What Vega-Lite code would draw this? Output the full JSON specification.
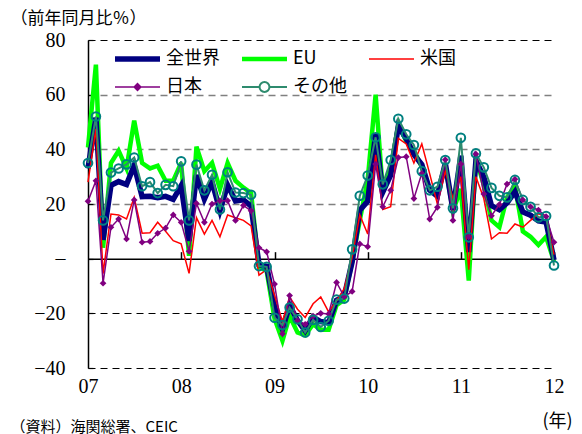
{
  "$schema": "https://vega.github.io/schema/vega-lite/v6.json",
  "width": 466,
  "height": 328,
  "autosize": "none",
  "padding": {"left": 88, "top": 40, "right": 28, "bottom": 66},
  "background": "white",
  "config": {"view": {"stroke": null}},
  "data": {"values": [
    {"d": "2007-01-01", "全世界": 33.0, "EU": 40.7, "米国": 28, "日本": 21, "その他": 35},
    {"d": "2007-02-01", "全世界": 51.6, "EU": 71, "米国": 47.5, "日本": 28.5, "その他": 52},
    {"d": "2007-03-01", "全世界": 6.9, "EU": 4, "米国": -5.5, "日本": -9, "その他": 14},
    {"d": "2007-04-01", "全世界": 26.8, "EU": 35, "米国": 16.3, "日本": 11.5, "その他": 31.5},
    {"d": "2007-05-01", "全世界": 28.2, "EU": 39.5, "米国": 16, "日本": 14.5, "その他": 33},
    {"d": "2007-06-01", "全世界": 27.1, "EU": 33, "米国": 14.5, "日本": 7.2, "その他": 34.5},
    {"d": "2007-07-01", "全世界": 34.1, "EU": 50.5, "米国": 22.4, "日本": 21.5, "その他": 37},
    {"d": "2007-08-01", "全世界": 22.7, "EU": 35, "米国": 9.3, "日本": 6, "その他": 26.5},
    {"d": "2007-09-01", "全世界": 22.8, "EU": 33, "米国": 9.5, "日本": 6.3, "その他": 28},
    {"d": "2007-10-01", "全世界": 22.3, "EU": 34, "米国": 13.3, "日本": 9.3, "その他": 24},
    {"d": "2007-11-01", "全世界": 22.8, "EU": 28.5, "米国": 10, "日本": 11.2, "その他": 27},
    {"d": "2007-12-01", "全世界": 21.7, "EU": 28.5, "米国": 6.6, "日本": 16, "その他": 26.5},
    {"d": "2008-01-01", "全世界": 26.7, "EU": 35, "米国": 5.4, "日本": 13.3, "その他": 35.6},
    {"d": "2008-02-01", "全世界": 6.5, "EU": 1, "米国": -5.4, "日本": 2.7, "その他": 14},
    {"d": "2008-03-01", "全世界": 30.6, "EU": 41, "米国": 15, "日本": 20.2, "その他": 34.4},
    {"d": "2008-04-01", "全世界": 21.8, "EU": 32, "米国": 9, "日本": 13.3, "その他": 25},
    {"d": "2008-05-01", "全世界": 28.1, "EU": 35, "米国": 14, "日本": 20, "その他": 30.7},
    {"d": "2008-06-01", "全世界": 17.6, "EU": 25.5, "米国": 8, "日本": 21.2, "その他": 18},
    {"d": "2008-07-01", "全世界": 26.9, "EU": 35, "米国": 16, "日本": 21.2, "その他": 31.6},
    {"d": "2008-08-01", "全世界": 21.1, "EU": 28.5, "米国": 15, "日本": 14, "その他": 24.2},
    {"d": "2008-09-01", "全世界": 21.5, "EU": 26, "米国": 14, "日本": 19.5, "その他": 24},
    {"d": "2008-10-01", "全世界": 19.2, "EU": 24, "米国": 12, "日本": 17.5, "その他": 23.4},
    {"d": "2008-11-01", "全世界": -2.2, "EU": -3, "米国": -6, "日本": 4, "その他": -2.7},
    {"d": "2008-12-01", "全世界": -2.8, "EU": -4.5, "米国": -4, "日本": 2.5, "その他": -3},
    {"d": "2009-01-01", "全世界": -17.5, "EU": -22, "米国": -13.5, "日本": -9.3, "その他": -21.6},
    {"d": "2009-02-01", "全世界": -25.7, "EU": -30, "米国": -23, "日本": -27.5, "その他": -24.3},
    {"d": "2009-03-01", "全世界": -17.1, "EU": -21, "米国": -14, "日本": -13.5, "その他": -17.9},
    {"d": "2009-04-01", "全世界": -22.6, "EU": -27, "米国": -18.5, "日本": -22.7, "その他": -22.2},
    {"d": "2009-05-01", "全世界": -26.4, "EU": -28, "米国": -21.5, "日本": -24, "その他": -27},
    {"d": "2009-06-01", "全世界": -21.4, "EU": -24, "米国": -16.5, "日本": -21, "その他": -22.4},
    {"d": "2009-07-01", "全世界": -23.0, "EU": -26, "米国": -14, "日本": -20, "その他": -25},
    {"d": "2009-08-01", "全世界": -23.4, "EU": -26, "米国": -19.5, "日本": -20.2, "その他": -22.7},
    {"d": "2009-09-01", "全世界": -15.2, "EU": -17, "米国": -15.4, "日本": -8.7, "その他": -15},
    {"d": "2009-10-01", "全世界": -13.8, "EU": -15, "米国": -11, "日本": -13.9, "その他": -14.6},
    {"d": "2009-11-01", "全世界": -1.2, "EU": -1, "米国": 0.5, "日本": -12, "その他": 3.4},
    {"d": "2009-12-01", "全世界": 17.7, "EU": 14, "米国": 16, "日本": 5.4, "その他": 23},
    {"d": "2010-01-01", "全世界": 21.0, "EU": 29, "米国": 9, "日本": 4.4, "その他": 30.4},
    {"d": "2010-02-01", "全世界": 45.7, "EU": 60, "米国": 38, "日本": 34.6, "その他": 44.4},
    {"d": "2010-03-01", "全世界": 24.3, "EU": 25, "米国": 18, "日本": 19, "その他": 27.2},
    {"d": "2010-04-01", "全世界": 30.5, "EU": 33, "米国": 19, "日本": 25, "その他": 36.1},
    {"d": "2010-05-01", "全世界": 48.5, "EU": 49, "米国": 44, "日本": 37, "その他": 51.2},
    {"d": "2010-06-01", "全世界": 43.9, "EU": 43, "米国": 42, "日本": 37.3, "その他": 45.5},
    {"d": "2010-07-01", "全世界": 38.1, "EU": 39.5, "米国": 35, "日本": 22, "その他": 41.6},
    {"d": "2010-08-01", "全世界": 34.4, "EU": 33.5, "米国": 42, "日本": 31.2, "その他": 32},
    {"d": "2010-09-01", "全世界": 25.1, "EU": 25, "米国": 31, "日本": 14.5, "その他": 25},
    {"d": "2010-10-01", "全世界": 22.9, "EU": 24, "米国": 20, "日本": 18.8, "その他": 26.3},
    {"d": "2010-11-01", "全世界": 34.9, "EU": 34, "米国": 32, "日本": 36.2, "その他": 36.1},
    {"d": "2010-12-01", "全世界": 17.9, "EU": 17.5, "米国": 22, "日本": 14, "その他": 18.4},
    {"d": "2011-01-01", "全世界": 37.7, "EU": 25.5, "米国": 30, "日本": 34.6, "その他": 44.2},
    {"d": "2011-02-01", "全世界": 2.4, "EU": -8, "米国": -4, "日本": 8, "その他": 7.8},
    {"d": "2011-03-01", "全世界": 35.8, "EU": 36.5, "米国": 30, "日本": 38.3, "その他": 38.5},
    {"d": "2011-04-01", "全世界": 29.9, "EU": 27, "米国": 22, "日本": 23.7, "その他": 33.4},
    {"d": "2011-05-01", "全世界": 19.4, "EU": 14, "米国": 7.2, "日本": 15.7, "その他": 25.9},
    {"d": "2011-06-01", "全世界": 17.9, "EU": 11.5, "米国": 9.5, "日本": 19.8, "その他": 23},
    {"d": "2011-07-01", "全世界": 20.4, "EU": 22.5, "米国": 9.3, "日本": 27.3, "その他": 22.4},
    {"d": "2011-08-01", "全世界": 24.5, "EU": 26.5, "米国": 12.7, "日本": 29.1, "その他": 28.8},
    {"d": "2011-09-01", "全世界": 17.1, "EU": 10, "米国": 11.5, "日本": 21.5, "その他": 21.5},
    {"d": "2011-10-01", "全世界": 15.9, "EU": 8, "米国": 14, "日本": 19, "その他": 19},
    {"d": "2011-11-01", "全世界": 13.8, "EU": 5, "米国": 16.5, "日本": 17.8, "その他": 15.1},
    {"d": "2011-12-01", "全世界": 13.4, "EU": 8, "米国": 15, "日本": 15.4, "その他": 15.6},
    {"d": "2012-01-01", "全世界": -0.5, "EU": -1, "米国": 1.5, "日本": 6, "その他": -2.5}
  ]},
  "transform": [{"fold": ["EU", "全世界", "米国", "日本", "その他"], "as": ["s", "v"]}],
  "layer": [
    {
      "mark": {"type": "line"},
      "encoding": {
        "x": {
          "field": "d", "type": "temporal",
          "scale": {"type": "utc", "domain": [{"year": 2007, "month": 1, "date": 1, "utc": true}, {"year": 2012, "month": 1, "date": 1, "utc": true}]},
          "axis": {
            "orient": "bottom",
            "values": [
              {"year": 2007, "month": 1, "date": 1, "utc": true},
              {"year": 2008, "month": 1, "date": 1, "utc": true},
              {"year": 2009, "month": 1, "date": 1, "utc": true},
              {"year": 2010, "month": 1, "date": 1, "utc": true},
              {"year": 2011, "month": 1, "date": 1, "utc": true},
              {"year": 2012, "month": 1, "date": 1, "utc": true}
            ],
            "format": "%y",
            "labelFont": "Liberation Serif", "labelFontSize": 20, "labelColor": "black",
            "labelPadding": 8, "labelFlush": false, "labelDx": 3, "labelOverlap": false,
            "domain": false, "ticks": false, "grid": false,
            "title": "（資料）海関総署、CEIC",
            "titleFont": "Noto Sans CJK JP", "titleFontSize": 15, "titleFontWeight": "normal", "titleColor": "black",
            "titleX": -78, "titleY": 58, "titleAlign": "left", "titleBaseline": "middle", "titleAngle": 0
          }
        },
        "y": {
          "field": "v", "type": "quantitative",
          "scale": {"domain": [-40, 80], "nice": false, "zero": false},
          "axis": {
            "values": [-40, -20, 0, 20, 40, 60, 80],
            "labelFont": "Liberation Serif", "labelFontSize": 20, "labelColor": "black",
            "labelExpr": "datum.value === 0 ? '–' : datum.label",
            "labelPadding": 28,
            "ticks": true, "tickSize": -5, "tickColor": "black", "tickWidth": 1.2,
            "domain": true, "domainColor": "black", "domainWidth": 1.5,
            "grid": true, "gridDash": [7, 5],
            "gridColor": {"condition": {"test": "datum.value < 0 || datum.value === 80", "value": "black"}, "value": "#808080"},
            "gridWidth": {"condition": {"test": "datum.value < 0 || datum.value === 80", "value": 1}, "value": 1.6},
            "gridOpacity": {"condition": {"test": "datum.value === 0", "value": 0}, "value": 1},
            "title": "（前年同月比％）",
            "titleFont": "Noto Sans CJK JP", "titleFontSize": 17, "titleFontWeight": "normal", "titleColor": "black",
            "titleAngle": 0, "titleX": -78, "titleY": -22, "titleAlign": "left", "titleBaseline": "middle"
          }
        },
        "color": {
          "field": "s", "type": "nominal",
          "scale": {"domain": ["全世界", "EU", "米国", "日本", "その他"], "range": ["#000080", "#00FF00", "#FF0000", "#800080", "#2E8B6E"]},
          "legend": {
            "orient": "none", "legendX": 24, "legendY": 9,
            "columns": 3, "direction": "horizontal", "title": null,
            "labelFont": "Noto Sans CJK JP", "labelFontSize": 18, "labelColor": "black", "labelOffset": 3,
            "symbolSize": 2025, "symbolType": "stroke", "clipHeight": 20,
            "gridAlign": "all", "columnPadding": 19, "rowPadding": 8,
            "encode": {
              "symbols": {
                "update": {
                  "shape": {"signal": "datum.value === '日本' ? 'M-1,0H1M-0.15,0L0,-0.15L0.15,0L0,0.15Z' : datum.value === 'その他' ? 'M-1,0H-0.22M0.22,0H1M-0.22,0A0.22,0.22,0,1,1,0.22,0A0.22,0.22,0,1,1,-0.22,0' : 'M-1,0H1'"},
                  "fill": {"signal": "datum.value === '日本' ? '#800080' : 'transparent'"},
                  "strokeWidth": {"signal": "datum.value === '全世界' ? 6 : datum.value === 'EU' ? 5 : datum.value === 'その他' ? 2 : 1.5"}
                }
              }
            }
          }
        },
        "strokeWidth": {
          "field": "s", "type": "nominal",
          "scale": {"type": "ordinal", "domain": ["全世界", "EU", "米国", "日本", "その他"], "range": [5.5, 4.5, 1.5, 1.5, 2]},
          "legend": null
        }
      }
    },
    {
      "transform": [{"filter": "datum.s === '日本'"}],
      "mark": {"type": "point", "shape": "diamond", "filled": true, "color": "#800080", "size": 45, "opacity": 1},
      "encoding": {
        "x": {
          "field": "d", "type": "temporal",
          "axis": {
            "orient": "top", "offset": -218.67,
            "values": [
              {"year": 2008, "month": 1, "date": 1, "utc": true},
              {"year": 2009, "month": 1, "date": 1, "utc": true},
              {"year": 2010, "month": 1, "date": 1, "utc": true},
              {"year": 2011, "month": 1, "date": 1, "utc": true},
              {"year": 2012, "month": 1, "date": 1, "utc": true}
            ],
            "labels": false, "ticks": true, "tickSize": 7, "tickColor": "black", "tickWidth": 1.5,
            "domain": true, "domainColor": "black", "domainWidth": 1.5, "grid": false,
            "title": "(年)",
            "titleFont": "Noto Sans CJK JP", "titleFontSize": 18, "titleFontWeight": "normal", "titleColor": "black",
            "titleX": 469, "titleY": 163, "titleAlign": "center", "titleBaseline": "middle", "titleAngle": 0
          }
        },
        "y": {"field": "v", "type": "quantitative"}
      }
    },
    {
      "transform": [{"filter": "datum.s === 'その他'"}],
      "mark": {"type": "point", "shape": "circle", "filled": false, "stroke": "#008080", "strokeWidth": 2, "size": 75, "opacity": 1},
      "encoding": {
        "x": {"field": "d", "type": "temporal", "axis": null},
        "y": {"field": "v", "type": "quantitative"}
      }
    }
  ],
  "resolve": {"axis": {"x": "independent"}}
}
